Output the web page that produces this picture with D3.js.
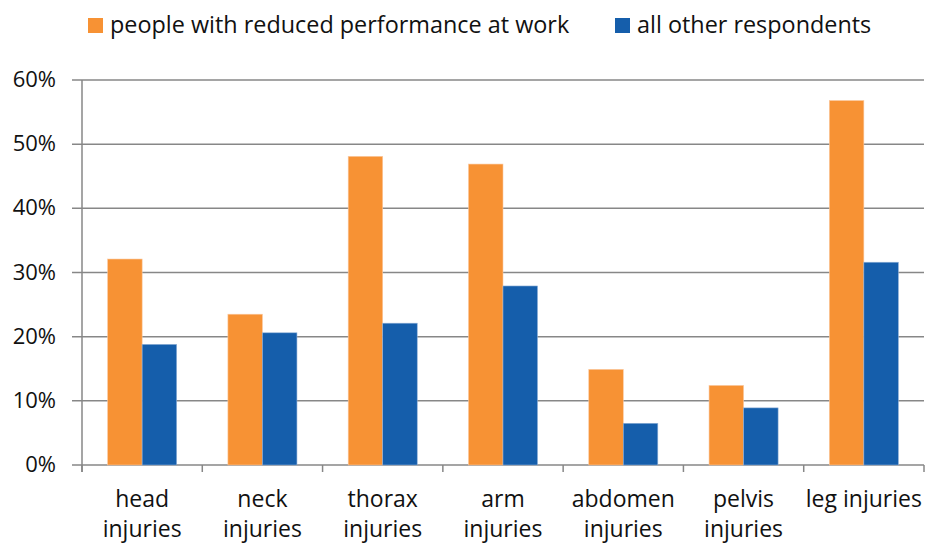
<!DOCTYPE html>
<html lang="en">
  <head>
    <meta charset="UTF-8" />
    <title>Injuries</title>
    <script src="https://cdn.jsdelivr.net/npm/d3@7"></script>
    <style>
      html,
      body {
        margin: 0;
        padding: 0;
        background: #fff;
      }
      text {
        font-family: 'Open Sans', 'Liberation Sans', sans-serif;
        fill: #111;
      }
    </style>
  </head>
  <body>
    <script>
      const categories = [
        ['head', 'injuries'],
        ['neck', 'injuries'],
        ['thorax', 'injuries'],
        ['arm', 'injuries'],
        ['abdomen', 'injuries'],
        ['pelvis', 'injuries'],
        ['leg injuries'],
      ];
      const seriesNames = [
        'people with reduced performance at work',
        'all other respondents',
      ];
      const reduced = [32.1, 23.5, 48.1, 46.9, 14.9, 12.4, 56.8];
      const others = [18.8, 20.6, 22.1, 27.9, 6.5, 8.9, 31.6];
      const yTicks = [0, 10, 20, 30, 40, 50, 60];

      const colors = ['#f79234', '#155eab'];
      const width = 927,
        height = 545;
      const plot = { left: 82, right: 924, top: 80, bottom: 465 };

      const svg = d3
        .select('body')
        .append('svg')
        .attr('width', width)
        .attr('height', height);

      const keys = categories.map((c) => c.join(' '));

      const x0 = d3
        .scaleBand()
        .domain(keys)
        .range([plot.left, plot.right])
        .paddingInner(0.426)
        .paddingOuter(0.213);

      const x1 = d3
        .scaleBand()
        .domain([0, 1])
        .range([0, x0.bandwidth()]);

      const y = d3
        .scaleLinear()
        .domain([0, 60])
        .range([plot.bottom, plot.top]);

      // gridlines
      svg
        .append('g')
        .selectAll('line')
        .data(yTicks)
        .join('line')
        .attr('x1', plot.left - 10)
        .attr('x2', plot.right)
        .attr('y1', (d) => y(d))
        .attr('y2', (d) => y(d))
        .style('stroke', '#878787')
        .style('stroke-width', 1.5);

      // y labels
      svg
        .append('g')
        .selectAll('text')
        .data(yTicks)
        .join('text')
        .attr('x', 56)
        .attr('y', (d) => y(d) + 7)
        .attr('text-anchor', 'end')
        .style('font-size', '22px')
        .text((d) => d + '%');

      // bars
      const rows = keys.map((k, i) => ({ key: k, vals: [reduced[i], others[i]] }));
      svg
        .append('g')
        .selectAll('g')
        .data(rows)
        .join('g')
        .attr('transform', (d) => `translate(${x0(d.key)},0)`)
        .selectAll('rect')
        .data((d) => d.vals.map((v, j) => ({ v, j })))
        .join('rect')
        .attr('x', (d) => x1(d.j))
        .attr('width', x1.bandwidth())
        .attr('y', (d) => y(d.v))
        .attr('height', (d) => y(0) - y(d.v))
        .style('fill', (d) => colors[d.j])
        .style('stroke', (d) => (d.j === 0 ? '#fbc9a0' : '#8fb0d6'))
        .style('stroke-width', 0.6);

      // axes lines
      svg
        .append('line')
        .attr('x1', plot.left)
        .attr('x2', plot.left)
        .attr('y1', plot.top)
        .attr('y2', plot.bottom + 7)
        .style('stroke', '#878787')
        .style('stroke-width', 1.5);

      const step = x0.step();
      const bounds = d3.range(keys.length + 1).map((i) => plot.left + i * step);
      svg
        .append('g')
        .selectAll('line')
        .data(bounds)
        .join('line')
        .attr('x1', (d) => d)
        .attr('x2', (d) => d)
        .attr('y1', plot.bottom)
        .attr('y2', plot.bottom + 7)
        .style('stroke', '#878787')
        .style('stroke-width', 1.5);

      // category labels
      const lab = svg
        .append('g')
        .selectAll('text')
        .data(categories)
        .join('text')
        .attr('x', (d, i) => x0(keys[i]) + x0.bandwidth() / 2)
        .attr('y', 507)
        .attr('text-anchor', 'middle')
        .style('font-size', '23px');
      lab
        .selectAll('tspan')
        .data((d) => d)
        .join('tspan')
        .attr('x', function () {
          return d3.select(this.parentNode).attr('x');
        })
        .attr('dy', (d, i) => (i === 0 ? 0 : 30))
        .text((d) => d);

      // legend
      const legendX = [88, 615];
      const legend = svg
        .append('g')
        .selectAll('g')
        .data(seriesNames)
        .join('g')
        .attr('transform', (d, i) => `translate(${legendX[i]},0)`);
      legend
        .append('rect')
        .attr('y', 18)
        .attr('width', 15)
        .attr('height', 15)
        .style('fill', (d, i) => colors[i]);
      legend
        .append('text')
        .attr('x', 22)
        .attr('y', 33)
        .style('font-size', '23.4px')
        .text((d) => d);
    </script>
  </body>
</html>
